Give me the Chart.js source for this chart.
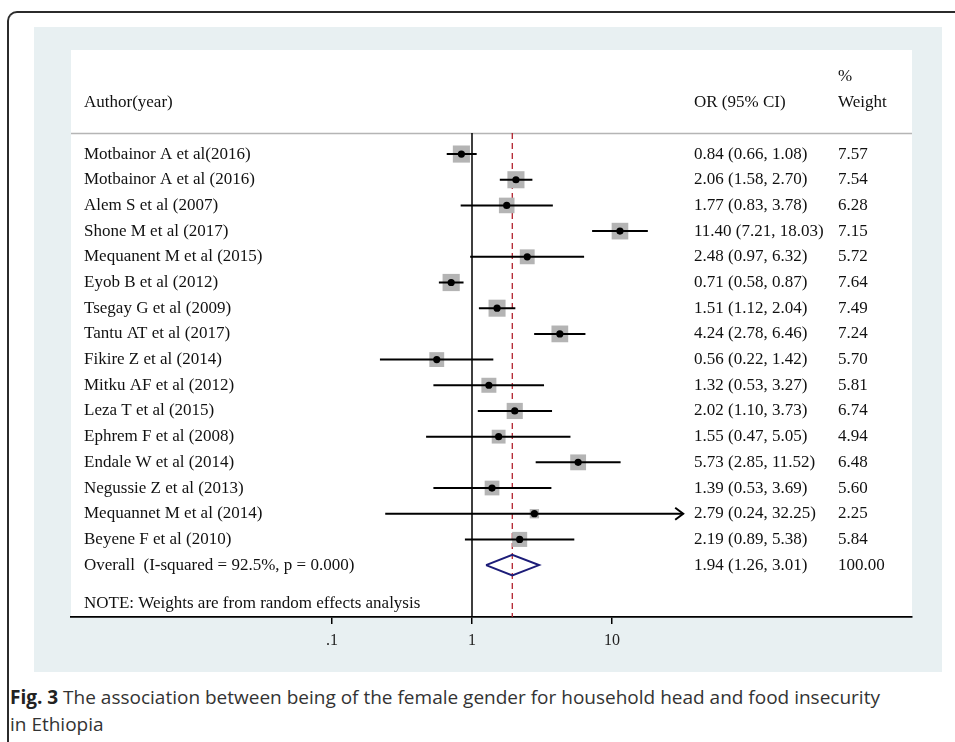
<!DOCTYPE html>
<html>
<head>
<meta charset="utf-8">
<script src="https://cdn.jsdelivr.net/npm/chart.js@4"></script>
<style>
  html, body { margin: 0; padding: 0; background: #fff; width: 955px; height: 742px; overflow: hidden; }
  #frame {
    position: absolute; left: 7px; top: 11px; width: 1100px; height: 900px;
    border-left: 2px solid #2b2b2b; border-top: 2px solid #2b2b2b;
    border-top-left-radius: 10px;
  }
  #panel { position: absolute; left: 34px; top: 27px; width: 908px; height: 645px; background: #e8f0f2; }
  #chart { position: absolute; left: 34px; top: 27px; }
  #caption {
    position: absolute; left: 10px; top: 684px; width: 940px;
    font-family: "Open Sans", sans-serif; font-size: 19px; line-height: 27px; color: #333;
  }
  #caption b { font-weight: 700; color: #222; }
</style>
</head>
<body>
<div id="frame"></div>
<div id="panel"></div>
<canvas id="chart" width="908" height="645" style="width:908px;height:645px"></canvas>
<div id="caption"><b>Fig. 3</b> The association between being of the female gender for household head and food insecurity<br>in Ethiopia</div>
<script>
const authors = [
  "Motbainor A et al(2016)",
  "Motbainor A et al (2016)",
  "Alem S et al (2007)",
  "Shone M et al (2017)",
  "Mequanent M et al (2015)",
  "Eyob B et al (2012)",
  "Tsegay G et al (2009)",
  "Tantu AT et al (2017)",
  "Fikire Z et al (2014)",
  "Mitku AF et al (2012)",
  "Leza T et al (2015)",
  "Ephrem F et al (2008)",
  "Endale W et al (2014)",
  "Negussie Z et al (2013)",
  "Mequannet M et al (2014)",
  "Beyene F et al (2010)",
];
const oddsRatio = [0.84, 2.06, 1.77, 11.40, 2.48, 0.71, 1.51, 4.24, 0.56, 1.32, 2.02, 1.55, 5.73, 1.39, 2.79, 2.19];
const lower = [0.66, 1.58, 0.83, 7.21, 0.97, 0.58, 1.12, 2.78, 0.22, 0.53, 1.10, 0.47, 2.85, 0.53, 0.24, 0.89];
const upper = [1.08, 2.70, 3.78, 18.03, 6.32, 0.87, 2.04, 6.46, 1.42, 3.27, 3.73, 5.05, 11.52, 3.69, 32.25, 5.38];
const weights = [7.57, 7.54, 6.28, 7.15, 5.72, 7.64, 7.49, 7.24, 5.70, 5.81, 6.74, 4.94, 6.48, 5.60, 2.25, 5.84];

const overallLabel = "Overall  (I-squared = 92.5%, p = 0.000)";
const overallOR = 1.94;
const overallLower = 1.26;
const overallUpper = 3.01;
const overallWeight = 100.00;

const xTicks = [0.1, 1, 10];
const xTickLabels = [".1", "1", "10"];
const arrowLimit = 20; // CIs beyond this get an arrow head

// layout (row units on the y scale)
const overallRow = authors.length;
const headerRow = -2;
const percentRow = -3;
const headerLineRow = -0.82;
const noteRow = 17.5;
const yMin = -4.05;
const yMax = 18.02;
// x range so that one decade = 140px across the plot
const xMin = Math.pow(10, -401 / 140);
const xMax = Math.pow(10, 440 / 140);

const fmt = (v) => v.toFixed(2);
const serif = '"Liberation Serif", "Times New Roman", serif';

const ciData = [];
authors.forEach((a, i) => {
  ciData.push({ x: lower[i], y: i }, { x: upper[i], y: i }, { x: upper[i], y: null });
});

const forestText = {
  id: "forestText",
  beforeDraw(chart) {
    const { ctx, chartArea, scales } = chart;
    ctx.save();
    ctx.fillStyle = "#fff";
    ctx.fillRect(chartArea.left, chartArea.top, chartArea.right - chartArea.left, chartArea.bottom - chartArea.top);
    const yl = Math.round(scales.y.getPixelForValue(headerLineRow)) + 0.5;
    ctx.strokeStyle = "#b5b5b5";
    ctx.lineWidth = 1.5;
    ctx.beginPath();
    ctx.moveTo(chartArea.left, yl);
    ctx.lineTo(chartArea.right, yl);
    ctx.stroke();
    ctx.restore();
  },
  afterDatasetsDraw(chart) {
    const { ctx, chartArea, scales } = chart;
    const y = scales.y, x = scales.x;
    const colAuthor = chartArea.left + 13;
    const colOR = chartArea.left + 623;
    const colW = chartArea.left + 767;
    ctx.save();
    ctx.fillStyle = "#111";
    ctx.font = "17px " + serif;
    ctx.textBaseline = "middle";
    ctx.textAlign = "left";
    ctx.fillText("Author(year)", colAuthor, y.getPixelForValue(headerRow));
    ctx.fillText("OR (95% CI)", colOR, y.getPixelForValue(headerRow));
    ctx.fillText("%", colW, y.getPixelForValue(percentRow));
    ctx.fillText("Weight", colW, y.getPixelForValue(headerRow));
    authors.forEach((a, i) => {
      const py = y.getPixelForValue(i);
      ctx.fillText(a, colAuthor, py);
      ctx.fillText(fmt(oddsRatio[i]) + " (" + fmt(lower[i]) + ", " + fmt(upper[i]) + ")", colOR, py);
      ctx.fillText(fmt(weights[i]), colW, py);
    });
    const po = y.getPixelForValue(overallRow);
    ctx.fillText(overallLabel, colAuthor, po);
    ctx.fillText(fmt(overallOR) + " (" + fmt(overallLower) + ", " + fmt(overallUpper) + ")", colOR, po);
    ctx.fillText(fmt(overallWeight), colW, po);
    ctx.fillText("NOTE: Weights are from random effects analysis", colAuthor, y.getPixelForValue(noteRow));
    // arrow heads for truncated CIs
    ctx.strokeStyle = "#000";
    ctx.lineWidth = 2;
    upper.forEach((u, i) => {
      if (u <= arrowLimit) return;
      const px = x.getPixelForValue(u), py = y.getPixelForValue(i);
      ctx.beginPath();
      ctx.moveTo(px - 8, py - 6);
      ctx.lineTo(px, py);
      ctx.lineTo(px - 8, py + 6);
      ctx.stroke();
    });
    ctx.restore();
  },
};

new Chart(document.getElementById("chart"), {
  type: "scatter",
  data: {
    datasets: [
      {
        label: "null line",
        data: [{ x: 1, y: headerLineRow }, { x: 1, y: yMax }],
        showLine: true,
        borderColor: "#000",
        borderWidth: 1.5,
        pointRadius: 0,
        order: 6,
      },
      {
        label: "pooled",
        data: [{ x: overallOR, y: headerLineRow }, { x: overallOR, y: yMax }],
        showLine: true,
        borderColor: "#b2222e",
        borderWidth: 1.3,
        borderDash: [6, 4],
        pointRadius: 0,
        order: 5,
      },
      {
        label: "weight",
        data: authors.map((a, i) => ({ x: oddsRatio[i], y: i })),
        pointStyle: "rect",
        pointRadius: weights.map((w) => 4.4 * Math.sqrt(w)),
        backgroundColor: "#b4b4b4",
        borderWidth: 0,
        order: 4,
      },
      {
        label: "CI",
        data: ciData,
        showLine: true,
        spanGaps: false,
        borderColor: "#000",
        borderWidth: 2,
        pointRadius: 0,
        order: 3,
      },
      {
        label: "OR",
        data: authors.map((a, i) => ({ x: oddsRatio[i], y: i })),
        pointStyle: "circle",
        pointRadius: 3.6,
        backgroundColor: "#000",
        borderWidth: 0,
        order: 2,
      },
      {
        label: "overall",
        data: [
          { x: overallLower, y: overallRow },
          { x: overallOR, y: overallRow - 0.4 },
          { x: overallUpper, y: overallRow },
          { x: overallOR, y: overallRow + 0.4 },
          { x: overallLower, y: overallRow },
        ],
        showLine: true,
        borderColor: "#1c1c78",
        borderWidth: 2,
        pointRadius: 0,
        order: 1,
      },
    ],
  },
  options: {
    responsive: false,
    animation: false,
    events: [],
    layout: { padding: { left: 37, right: 30, top: 23, bottom: 0 } },
    plugins: { legend: { display: false }, tooltip: { enabled: false } },
    scales: {
      x: {
        type: "logarithmic",
        min: xMin,
        max: xMax,
        afterBuildTicks: (scale) => {
          scale.ticks = xTicks.map((v) => ({ value: v }));
        },
        afterFit: (scale) => {
          scale.height = 55;
        },
        ticks: {
          autoSkip: false,
          maxRotation: 0,
          color: "#222",
          font: { family: serif, size: 16 },
          padding: 7,
          callback: (v) => xTickLabels[xTicks.indexOf(v)] ?? "",
        },
        grid: { drawOnChartArea: false, drawTicks: true, tickLength: 7, color: "#000", lineWidth: 1.5 },
        border: { display: true, color: "#000", width: 1.8 },
      },
      y: {
        type: "linear",
        reverse: true,
        min: yMin,
        max: yMax,
        display: false,
      },
    },
  },
  plugins: [forestText],
});
</script>
</body>
</html>
